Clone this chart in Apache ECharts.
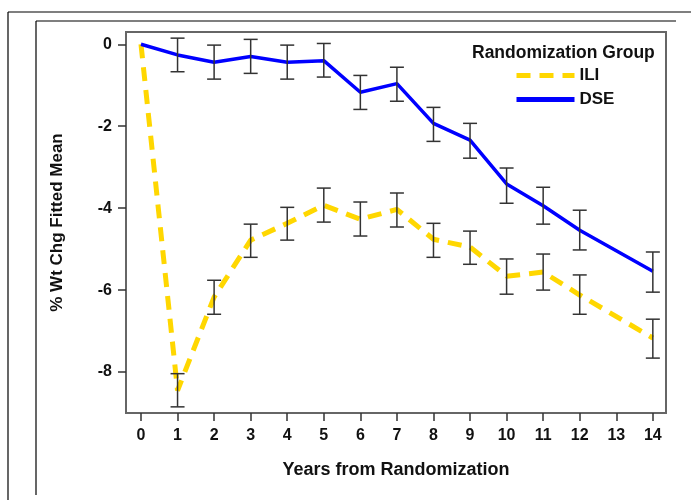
<!DOCTYPE html>
<html>
<head>
<meta charset="utf-8">
<script src="https://cdn.jsdelivr.net/npm/echarts@6/dist/echarts.min.js"></script>
<style>
  html, body { margin: 0; padding: 0; background: #fff; }
  #chart { width: 691px; height: 500px; }
</style>
</head>
<body>
<div id="chart"></div>
<script>
var years = [0, 1, 2, 3, 4, 5, 6, 7, 8, 9, 10, 11, 12, 13, 14];
var yTicks = [0, -2, -4, -6, -8];

// fitted mean and error bar limits (year 13 not reported)
var iliMean = [0, -8.45, -6.17, -4.78, -4.37, -3.93, -4.27, -4.03, -4.76, -4.95, -5.66, -5.56, -6.12, null, -7.17];
var iliLow  = [null, -8.85, -6.59, -5.20, -4.78, -4.34, -4.68, -4.46, -5.20, -5.37, -6.10, -6.00, -6.59, null, -7.66];
var iliHigh = [null, -8.04, -5.76, -4.39, -3.98, -3.51, -3.85, -3.63, -4.37, -4.56, -5.24, -5.12, -5.63, null, -6.71];

var dseMean = [0, -0.26, -0.44, -0.30, -0.44, -0.40, -1.17, -0.96, -1.93, -2.34, -3.41, -3.94, -4.54, null, -5.54];
var dseLow  = [null, -0.67, -0.85, -0.71, -0.85, -0.80, -1.59, -1.39, -2.37, -2.78, -3.88, -4.39, -5.02, null, -6.05];
var dseHigh = [null, 0.15, -0.02, 0.12, -0.02, 0.02, -0.76, -0.56, -1.54, -1.93, -3.02, -3.49, -4.05, null, -5.07];

var FONT = '"Liberation Sans", Arial, sans-serif';

function pairs(vals) {
    var out = [];
    years.forEach(function(x, i) {
        if (vals[i] !== null) out.push([x, vals[i]]);
    });
    return out;
}
function bars(low, high) {
    var out = [];
    years.forEach(function(x, i) {
        if (low[i] !== null) out.push([x, low[i], high[i]]);
    });
    return out;
}

function renderErr(params, api) {
    var lo = api.coord([api.value(0), api.value(1)]);
    var hi = api.coord([api.value(0), api.value(2)]);
    var half = 7;
    var st = { stroke: '#333', lineWidth: 1.5 };
    return {
        type: 'group',
        children: [
            { type: 'line', shape: { x1: lo[0], y1: lo[1], x2: hi[0], y2: hi[1] }, style: st },
            { type: 'line', shape: { x1: lo[0] - half, y1: lo[1], x2: lo[0] + half, y2: lo[1] }, style: st },
            { type: 'line', shape: { x1: hi[0] - half, y1: hi[1], x2: hi[0] + half, y2: hi[1] }, style: st }
        ]
    };
}

var chart = echarts.init(document.getElementById('chart'));
var option = {
    backgroundColor: '#fff',
    animation: false,
    textStyle: { fontFamily: FONT },
    title: {
        text: 'Randomization Group',
        left: 467,
        top: 39,
        textStyle: { fontFamily: FONT, fontSize: 17.5, fontWeight: 'bold', color: '#111' }
    },
    legend: {
        orient: 'vertical',
        left: 509,
        top: 62,
        itemWidth: 58,
        itemHeight: 14,
        itemGap: 7,
        itemStyle: { opacity: 0 },
        lineStyle: { width: 5 },
        textStyle: { fontFamily: FONT, fontSize: 17, fontWeight: 'bold', color: '#111' },
        data: ['ILI', 'DSE']
    },
    grid: {
        left: 126, top: 32, right: 25, bottom: 87,
        show: true, borderColor: '#666', borderWidth: 2
    },
    xAxis: {
        type: 'value',
        min: -0.41, max: 14.36,
        name: 'Years from Randomization',
        nameLocation: 'middle',
        nameGap: 48,
        nameTextStyle: { fontFamily: FONT, fontSize: 18, fontWeight: 'bold', color: '#111' },
        axisLine: { show: false, onZero: false },
        splitLine: { show: false },
        axisTick: { show: true, inside: false, length: 8, customValues: years, lineStyle: { color: '#333', width: 1.5 } },
        axisLabel: { customValues: years, margin: 15, fontFamily: FONT, fontSize: 16, fontWeight: 'bold', color: '#111' }
    },
    yAxis: {
        type: 'value',
        min: -9, max: 0.3,
        name: '% Wt Chg Fitted Mean',
        nameLocation: 'middle',
        nameGap: 60,
        nameTextStyle: { fontFamily: FONT, fontSize: 17, fontWeight: 'bold', color: '#111' },
        axisLine: { show: false, onZero: false },
        splitLine: { show: false },
        axisTick: { show: true, inside: false, length: 8, customValues: yTicks, lineStyle: { color: '#333', width: 1.5 } },
        axisLabel: { customValues: yTicks, margin: 14, fontFamily: FONT, fontSize: 16, fontWeight: 'bold', color: '#111' }
    },
    graphic: [
        { type: 'line', shape: { x1: 8, y1: 12, x2: 691, y2: 12 }, style: { stroke: '#000', lineWidth: 1.2 } },
        { type: 'line', shape: { x1: 8, y1: 12, x2: 8, y2: 500 }, style: { stroke: '#000', lineWidth: 1.2 } },
        { type: 'line', shape: { x1: 36, y1: 21, x2: 676, y2: 21 }, style: { stroke: '#000', lineWidth: 1.2 } },
        { type: 'line', shape: { x1: 36, y1: 21, x2: 36, y2: 495 }, style: { stroke: '#000', lineWidth: 1.2 } }
    ],
    series: [
        {
            name: 'ILI',
            type: 'line',
            data: pairs(iliMean),
            symbol: 'none',
            color: '#FFD700',
            lineStyle: { color: '#FFD700', width: 5, type: [14, 9] },
            z: 3
        },
        {
            name: 'DSE',
            type: 'line',
            data: pairs(dseMean),
            symbol: 'none',
            color: '#0000FF',
            lineStyle: { color: '#0000FF', width: 3.5 },
            z: 3
        },
        {
            type: 'custom',
            renderItem: renderErr,
            data: bars(iliLow, iliHigh),
            encode: { x: 0, y: [1, 2] },
            z: 4
        },
        {
            type: 'custom',
            renderItem: renderErr,
            data: bars(dseLow, dseHigh),
            encode: { x: 0, y: [1, 2] },
            z: 4
        }
    ]
};
chart.setOption(option);
</script>
</body>
</html>
